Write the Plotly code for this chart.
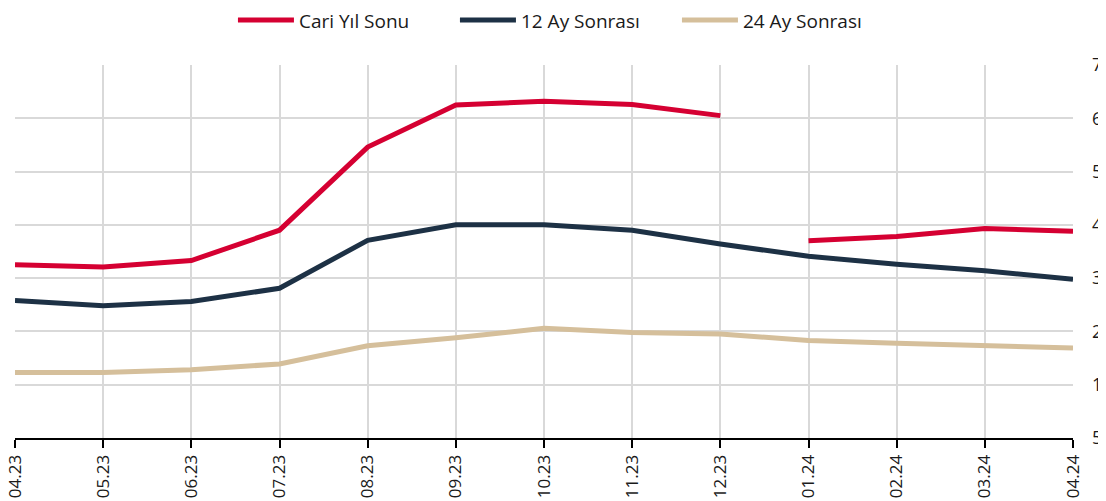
import plotly.graph_objects as go

months = ["04.23", "05.23", "06.23", "07.23", "08.23", "09.23", "10.23",
          "11.23", "12.23", "01.24", "02.24", "03.24", "04.24"]

# Cari Yıl Sonu: 2023 year-end expectation (04.23-12.23), 2024 year-end (01.24-04.24)
cari_2023_months = months[:9]
cari_2023 = [37.5, 37.1, 38.3, 44.0, 59.6, 67.5, 68.2, 67.6, 65.5]
cari_2024_months = months[9:]
cari_2024 = [42.0, 42.8, 44.3, 43.8]

ay12 = [30.8, 29.8, 30.6, 33.1, 42.1, 45.0, 45.0, 44.0, 41.4, 39.1, 37.6, 36.4, 34.8]
ay24 = [17.3, 17.3, 17.8, 18.9, 22.3, 23.8, 25.6, 24.8, 24.5, 23.3, 22.8, 22.3, 21.9]

y_ticks = [5, 15, 25, 35, 45, 55, 65, 75]
split_month = "12.23"

RED = "#D50032"
NAVY = "#1D3145"
TAN = "#D5BF9B"
FONT = "Open Sans"

fig = go.Figure()
fig.add_trace(go.Scatter(x=cari_2023_months, y=cari_2023, mode="lines", name="Cari Yıl Sonu",
                         line=dict(color=RED, width=5), legendgroup="cari"))
fig.add_trace(go.Scatter(x=months, y=ay12, mode="lines", name="12 Ay Sonrası",
                         line=dict(color=NAVY, width=5)))
fig.add_trace(go.Scatter(x=months, y=ay24, mode="lines", name="24 Ay Sonrası",
                         line=dict(color=TAN, width=5)))
fig.add_trace(go.Scatter(x=cari_2024_months, y=cari_2024, mode="lines", name="Cari Yıl Sonu",
                         line=dict(color=RED, width=5), legendgroup="cari", showlegend=False))

fig.add_shape(type="line", xref="x", yref="paper", x0=split_month, x1=split_month, y0=0, y1=1,
              line=dict(color="black", width=2, dash="dash"), layer="above")

fig.update_layout(
    width=1106, height=501,
    margin=dict(l=7, r=41, t=57, b=71, autoexpand=False),
    paper_bgcolor="white", plot_bgcolor="white",
    font=dict(family=FONT, size=17, color="#1a1a1a"),
    showlegend=True,
    legend=dict(orientation="h", x=0.206, xanchor="left", y=1.12, yanchor="middle",
                font=dict(family=FONT, size=19, color="#1a1a1a"), itemwidth=56,
                entrywidth=151, traceorder="normal"),
    xaxis=dict(type="category", categoryorder="array", categoryarray=months,
               range=[0, len(months) - 1], showgrid=True, gridcolor="#D9D9D9", gridwidth=2,
               showline=True, linecolor="black", linewidth=2, automargin=False,
               ticks="outside", ticklen=8, tickwidth=2, tickcolor="black",
               tickangle=-90, tickfont=dict(size=17), zeroline=False),
    yaxis=dict(side="right", range=[5, 75], tickvals=y_ticks, showgrid=True, automargin=False,
               gridcolor="#D9D9D9", gridwidth=2, zeroline=False, showline=False,
               ticks="", ticklabelstandoff=18, tickfont=dict(size=18)),
)

fig.write_html("out.html")
